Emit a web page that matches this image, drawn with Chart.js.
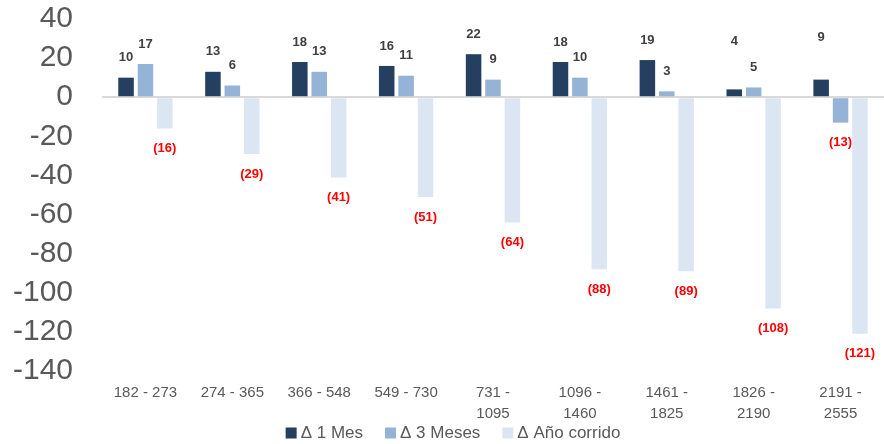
<!DOCTYPE html>
<html>
<head>
<meta charset="utf-8">
<script src="https://cdn.jsdelivr.net/npm/chart.js@4/dist/chart.umd.min.js"></script>
<style>
  html, body { margin: 0; padding: 0; background: #fff; }
  #wrap { width: 884px; height: 444px; }
</style>
</head>
<body>
<div id="wrap"><canvas id="chart"></canvas></div>
<script>
// Rangos de plazo (días)
const rangos = [
    '182 - 273', '274 - 365', '366 - 548', '549 - 730',
    ['731 -', '1095'], ['1096 -', '1460'], ['1461 -', '1825'],
    ['1826 -', '2190'], ['2191 -', '2555']
];

const delta1Mes = [10, 13, 18, 16, 22, 18, 19, 4, 9];
const delta3Meses = [17, 6, 13, 11, 9, 10, 3, 5, -13];
const deltaAnio = [-16, -29, -41, -51, -64, -88, -89, -108, -121];

const yTicks = { min: -140, max: 40, step: 20 };

const fuente = '"Liberation Sans", Arial, sans-serif';

// Etiquetas de valor: positivos en gris arriba, negativos en rojo entre paréntesis abajo
const valueLabels = {
    id: 'valueLabels',
    afterDatasetsDraw(chart, args, opts) {
        const ctx = chart.ctx;
        ctx.save();
        ctx.font = 'bold 13px ' + fuente;
        ctx.textAlign = 'center';
        ctx.textBaseline = 'middle';
        chart.data.datasets.forEach((ds, di) => {
            const meta = chart.getDatasetMeta(di);
            meta.data.forEach((bar, i) => {
                const v = ds.data[i];
                const extra = (opts.lift[di] && opts.lift[di][i]) || 0;
                if (v >= 0) {
                    ctx.fillStyle = '#404040';
                    ctx.fillText(String(v), bar.x, bar.y - 20 - extra);
                } else {
                    ctx.fillStyle = '#FF0000';
                    ctx.fillText('(' + Math.abs(v) + ')', bar.x, bar.y + 20);
                }
            });
        });
        ctx.restore();
    }
};

// Leyenda inferior dibujada a mano (cuadro + texto), centrada
const bottomLegend = {
    id: 'bottomLegend',
    afterDraw(chart, args, opts) {
        const ctx = chart.ctx;
        ctx.save();
        ctx.font = '17px ' + fuente;
        ctx.textBaseline = 'middle';
        const box = 11, gap = 4, sep = 22;
        const items = chart.data.datasets.map(ds => ({
            text: ds.label,
            color: ds.backgroundColor,
            w: box + gap + ctx.measureText(ds.label).width
        }));
        const total = items.reduce((s, it) => s + it.w, 0) + sep * (items.length - 1);
        let x = chart.width / 2 + opts.shift - total / 2;
        const y = opts.y;
        items.forEach(it => {
            ctx.fillStyle = it.color;
            ctx.fillRect(x, y - box / 2, box, box);
            ctx.fillStyle = '#595959';
            ctx.fillText(it.text, x + box + gap, y);
            x += it.w + sep;
        });
        ctx.restore();
    }
};

const ctxChart = document.getElementById('chart');

new Chart(ctxChart, {
    type: 'bar',
    data: {
        labels: rangos,
        datasets: [
            { label: 'Δ 1 Mes', data: delta1Mes, backgroundColor: '#243F60' },
            { label: 'Δ 3 Meses', data: delta3Meses, backgroundColor: '#95B3D7' },
            { label: 'Δ Año corrido', data: deltaAnio, backgroundColor: '#DCE6F2' }
        ]
    },
    options: {
        responsive: true,
        maintainAspectRatio: false,
        animation: false,
        datasets: {
            bar: { categoryPercentage: 0.67, barPercentage: 0.8 }
        },
        layout: { padding: { top: 19, right: 0, left: 0, bottom: 0 } },
        plugins: {
            tooltip: { enabled: false },
            legend: { display: false },
            bottomLegend: { y: 433, shift: 11 },
            valueLabels: {
                lift: { 0: { 7: 28, 8: 22 } }
            }
        },
        scales: {
            x: {
                grid: { display: false, drawTicks: false },
                border: { display: false },
                ticks: {
                    color: '#595959',
                    padding: 11,
                    maxRotation: 0,
                    autoSkip: false,
                    font: { size: 15, family: fuente, lineHeight: 1.4 }
                },
                afterFit(scale) { scale.height = 73; }
            },
            y: {
                min: yTicks.min,
                max: yTicks.max,
                border: { display: false },
                grid: {
                    drawTicks: false,
                    lineWidth: 2,
                    color: c => (c.tick && c.tick.value === 0 ? '#D9D9D9' : 'rgba(0,0,0,0)')
                },
                ticks: {
                    stepSize: yTicks.step,
                    autoSkip: false,
                    padding: 29,
                    color: '#595959',
                    font: { size: 30, family: fuente }
                },
                afterFit(scale) {
                    scale.width = 102;
                    scale.paddingTop = 0;
                    scale.paddingBottom = 0;
                }
            }
        }
    },
    plugins: [valueLabels, bottomLegend]
});
</script>
</body>
</html>
